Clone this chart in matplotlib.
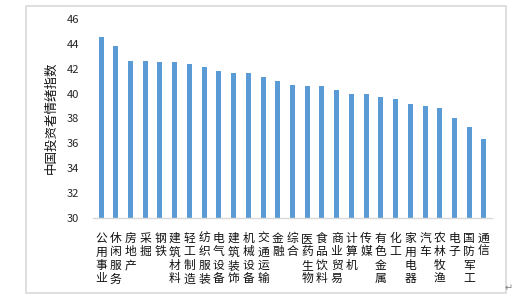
import matplotlib
matplotlib.use("Agg")
import matplotlib.pyplot as plt
from matplotlib.patches import Rectangle

plt.rcParams['font.family'] = ['Noto Sans CJK SC', 'DejaVu Sans']

industries = ['公用事业', '休闲服务', '房地产', '采掘', '钢铁', '建筑材料', '轻工制造',
              '纺织服装', '电气设备', '建筑装饰', '机械设备', '交通运输', '金融', '综合',
              '医药生物', '食品饮料', '商业贸易', '计算机', '传媒', '有色金属', '化工',
              '家用电器', '汽车', '农林牧渔', '电子', '国防军工', '通信']
sentiment = [44.58, 43.86, 42.66, 42.66, 42.53, 42.53, 42.42, 42.18, 41.81, 41.62,
             41.62, 41.30, 40.98, 40.66, 40.58, 40.58, 40.26, 39.94, 39.94, 39.70,
             39.54, 39.14, 38.98, 38.82, 38.02, 37.30, 36.34]
yticks = [30, 32, 34, 36, 38, 40, 42, 44, 46]

fig = plt.figure(figsize=(5.17, 3.01), dpi=100)
fig.patches.append(Rectangle((26 / 517, 1 - 293 / 301), 480 / 517, 287 / 301,
                             transform=fig.transFigure, fill=False,
                             edgecolor='#d9d9d9', linewidth=1.2))

ax = fig.add_axes([93 / 517, 1 - 218 / 301, 399 / 517, 199 / 301])
x = range(len(industries))
ax.bar(x, sentiment, width=0.34, color='#5B9BD5', bottom=0)
ax.set_ylim(30, 46)
ax.set_xlim(-0.55, len(industries) - 0.45)
ax.set_yticks(yticks)
ax.set_yticklabels([str(v) for v in yticks], fontsize=8, color='#262626')
ax.set_xticks(list(x))
# stacked (vertical) category names, one character per line
ax.set_xticklabels(['\n'.join(s) for s in industries], fontsize=8.5,
                   color='#111111', linespacing=1.05, va='top')
ax.tick_params(axis='both', length=0)
ax.tick_params(axis='x', pad=10)
ax.tick_params(axis='y', pad=10)
for side in ['left', 'right', 'top']:
    ax.spines[side].set_visible(False)
ax.spines['bottom'].set_color('#d9d9d9')
ax.spines['bottom'].set_linewidth(1.0)

fig.text(51 / 517, 1 - 118 / 301, '中国投资者情绪指数', rotation=90, fontsize=9,
         ha='center', va='center', color='#111111')
fig.text(509 / 517, 1 - 288 / 301, '↵', fontsize=7, color='#808080',
         ha='center', va='center', family='DejaVu Sans')

fig.savefig('out.png', dpi=100)
